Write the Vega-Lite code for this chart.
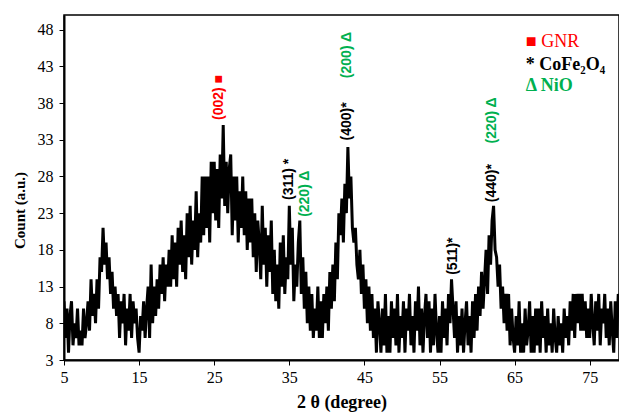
{
  "$schema": "https://vega.github.io/schema/vega-lite/v6.json",
  "autosize": "none",
  "width": 555,
  "height": 345,
  "padding": {"left": 64, "top": 15, "right": 0, "bottom": 53},
  "background": "white",
  "config": {"view": {"stroke": "black", "strokeWidth": 1.5}},
  "datasets": {
    "xrd": [
      {"t":5.0,"c":11},{"t":5.2,"c":6},{"t":5.4,"c":10},{"t":5.6,"c":4},{"t":5.8,"c":9},
      {"t":6.0,"c":11},{"t":6.2,"c":5},{"t":6.4,"c":8},{"t":6.6,"c":6},{"t":6.8,"c":10},
      {"t":7.0,"c":5},{"t":7.2,"c":7},{"t":7.4,"c":5},{"t":7.6,"c":10},{"t":7.8,"c":6},
      {"t":8.0,"c":8},{"t":8.2,"c":11},{"t":8.4,"c":7},{"t":8.6,"c":14},{"t":8.8,"c":9},
      {"t":9.0,"c":12},{"t":9.2,"c":8},{"t":9.4,"c":14},{"t":9.6,"c":10},{"t":9.8,"c":17},
      {"t":10.0,"c":15},{"t":10.2,"c":21},{"t":10.4,"c":16},{"t":10.6,"c":19},{"t":10.8,"c":14},
      {"t":11.0,"c":17},{"t":11.2,"c":12},{"t":11.4,"c":15},{"t":11.6,"c":10},{"t":11.8,"c":13},
      {"t":12.0,"c":9},{"t":12.2,"c":12},{"t":12.4,"c":6},{"t":12.6,"c":11},{"t":12.8,"c":8},
      {"t":13.0,"c":12},{"t":13.2,"c":5},{"t":13.4,"c":10},{"t":13.6,"c":7},{"t":13.8,"c":12},
      {"t":14.0,"c":6},{"t":14.2,"c":11},{"t":14.4,"c":8},{"t":14.6,"c":10},{"t":14.8,"c":6},
      {"t":15.0,"c":4},{"t":15.2,"c":9},{"t":15.4,"c":7},{"t":15.6,"c":11},{"t":15.8,"c":6},
      {"t":16.0,"c":10},{"t":16.2,"c":13},{"t":16.4,"c":6},{"t":16.6,"c":16},{"t":16.8,"c":8},
      {"t":17.0,"c":13},{"t":17.2,"c":9},{"t":17.4,"c":14},{"t":17.6,"c":10},{"t":17.8,"c":16},
      {"t":18.0,"c":12},{"t":18.2,"c":17},{"t":18.4,"c":11},{"t":18.6,"c":16},{"t":18.8,"c":13},
      {"t":19.0,"c":18},{"t":19.2,"c":13},{"t":19.4,"c":20},{"t":19.6,"c":14},{"t":19.8,"c":19},
      {"t":20.0,"c":13},{"t":20.2,"c":21},{"t":20.4,"c":16},{"t":20.6,"c":22},{"t":20.8,"c":15},
      {"t":21.0,"c":20},{"t":21.2,"c":14},{"t":21.4,"c":23},{"t":21.6,"c":17},{"t":21.8,"c":24},
      {"t":22.0,"c":16},{"t":22.2,"c":22},{"t":22.4,"c":18},{"t":22.6,"c":26},{"t":22.8,"c":17},
      {"t":23.0,"c":23},{"t":23.2,"c":19},{"t":23.4,"c":28},{"t":23.6,"c":20},{"t":23.8,"c":28},
      {"t":24.0,"c":21},{"t":24.2,"c":28},{"t":24.4,"c":19},{"t":24.6,"c":30},{"t":24.8,"c":23},
      {"t":25.0,"c":30},{"t":25.2,"c":22},{"t":25.4,"c":29},{"t":25.6,"c":21},{"t":25.8,"c":31},
      {"t":26.0,"c":25},{"t":26.2,"c":35},{"t":26.4,"c":24},{"t":26.6,"c":30},{"t":26.8,"c":23},
      {"t":27.0,"c":29},{"t":27.2,"c":31},{"t":27.4,"c":20},{"t":27.6,"c":28},{"t":27.8,"c":22},
      {"t":28.0,"c":28},{"t":28.2,"c":19},{"t":28.4,"c":26},{"t":28.6,"c":21},{"t":28.8,"c":28},
      {"t":29.0,"c":20},{"t":29.2,"c":26},{"t":29.4,"c":18},{"t":29.6,"c":25},{"t":29.8,"c":19},
      {"t":30.0,"c":25},{"t":30.2,"c":17},{"t":30.4,"c":23},{"t":30.6,"c":15},{"t":30.8,"c":22},
      {"t":31.0,"c":19},{"t":31.2,"c":14},{"t":31.4,"c":24},{"t":31.6,"c":16},{"t":31.8,"c":21},
      {"t":32.0,"c":13},{"t":32.2,"c":20},{"t":32.4,"c":15},{"t":32.6,"c":22},{"t":32.8,"c":12},
      {"t":33.0,"c":18},{"t":33.2,"c":11},{"t":33.4,"c":16},{"t":33.6,"c":10},{"t":33.8,"c":19},
      {"t":34.0,"c":13},{"t":34.2,"c":20},{"t":34.4,"c":12},{"t":34.6,"c":17},{"t":34.8,"c":14},
      {"t":35.0,"c":24},{"t":35.2,"c":16},{"t":35.4,"c":21},{"t":35.6,"c":11},{"t":35.8,"c":16},
      {"t":36.0,"c":13},{"t":36.2,"c":19},{"t":36.4,"c":22},{"t":36.6,"c":12},{"t":36.8,"c":17},
      {"t":37.0,"c":10},{"t":37.2,"c":15},{"t":37.4,"c":8},{"t":37.6,"c":13},{"t":37.8,"c":7},
      {"t":38.0,"c":12},{"t":38.2,"c":6},{"t":38.4,"c":10},{"t":38.6,"c":7},{"t":38.8,"c":13},
      {"t":39.0,"c":6},{"t":39.2,"c":11},{"t":39.4,"c":6},{"t":39.6,"c":12},{"t":39.8,"c":8},
      {"t":40.0,"c":13},{"t":40.2,"c":7},{"t":40.4,"c":15},{"t":40.6,"c":10},{"t":40.8,"c":16},
      {"t":41.0,"c":11},{"t":41.2,"c":19},{"t":41.4,"c":14},{"t":41.6,"c":23},{"t":41.8,"c":20},
      {"t":42.0,"c":25},{"t":42.2,"c":19},{"t":42.4,"c":27},{"t":42.6,"c":23},{"t":42.8,"c":32},
      {"t":43.0,"c":25},{"t":43.2,"c":28},{"t":43.4,"c":21},{"t":43.6,"c":19},{"t":43.8,"c":21},
      {"t":44.0,"c":16},{"t":44.2,"c":14},{"t":44.4,"c":18},{"t":44.6,"c":12},{"t":44.8,"c":16},
      {"t":45.0,"c":10},{"t":45.2,"c":14},{"t":45.4,"c":8},{"t":45.6,"c":13},{"t":45.8,"c":7},
      {"t":46.0,"c":12},{"t":46.2,"c":6},{"t":46.4,"c":10},{"t":46.6,"c":4},{"t":46.8,"c":11},
      {"t":47.0,"c":8},{"t":47.2,"c":4},{"t":47.4,"c":10},{"t":47.6,"c":5},{"t":47.8,"c":12},
      {"t":48.0,"c":4},{"t":48.2,"c":9},{"t":48.4,"c":4},{"t":48.6,"c":11},{"t":48.8,"c":6},
      {"t":49.0,"c":10},{"t":49.2,"c":5},{"t":49.4,"c":12},{"t":49.6,"c":4},{"t":49.8,"c":9},
      {"t":50.0,"c":6},{"t":50.2,"c":11},{"t":50.4,"c":4},{"t":50.6,"c":10},{"t":50.8,"c":7},
      {"t":51.0,"c":12},{"t":51.2,"c":5},{"t":51.4,"c":9},{"t":51.6,"c":4},{"t":51.8,"c":11},
      {"t":52.0,"c":7},{"t":52.2,"c":13},{"t":52.4,"c":5},{"t":52.6,"c":10},{"t":52.8,"c":4},
      {"t":53.0,"c":9},{"t":53.2,"c":12},{"t":53.4,"c":6},{"t":53.6,"c":11},{"t":53.8,"c":4},
      {"t":54.0,"c":10},{"t":54.2,"c":5},{"t":54.4,"c":12},{"t":54.6,"c":7},{"t":54.8,"c":4},
      {"t":55.0,"c":9},{"t":55.2,"c":4},{"t":55.4,"c":11},{"t":55.6,"c":6},{"t":55.8,"c":10},
      {"t":56.0,"c":5},{"t":56.2,"c":12},{"t":56.4,"c":8},{"t":56.6,"c":14},{"t":56.8,"c":10},
      {"t":57.0,"c":6},{"t":57.2,"c":11},{"t":57.4,"c":4},{"t":57.6,"c":9},{"t":57.8,"c":5},
      {"t":58.0,"c":10},{"t":58.2,"c":4},{"t":58.4,"c":8},{"t":58.6,"c":11},{"t":58.8,"c":5},
      {"t":59.0,"c":9},{"t":59.2,"c":4},{"t":59.4,"c":11},{"t":59.6,"c":6},{"t":59.8,"c":12},
      {"t":60.0,"c":7},{"t":60.2,"c":13},{"t":60.4,"c":9},{"t":60.6,"c":15},{"t":60.8,"c":10},
      {"t":61.0,"c":14},{"t":61.2,"c":18},{"t":61.4,"c":12},{"t":61.6,"c":20},{"t":61.8,"c":16},
      {"t":62.0,"c":22},{"t":62.2,"c":24},{"t":62.4,"c":18},{"t":62.6,"c":17},{"t":62.8,"c":13},
      {"t":63.0,"c":16},{"t":63.2,"c":10},{"t":63.4,"c":13},{"t":63.6,"c":8},{"t":63.8,"c":12},
      {"t":64.0,"c":7},{"t":64.2,"c":12},{"t":64.4,"c":5},{"t":64.6,"c":10},{"t":64.8,"c":6},
      {"t":65.0,"c":4},{"t":65.2,"c":9},{"t":65.4,"c":5},{"t":65.6,"c":11},{"t":65.8,"c":4},
      {"t":66.0,"c":8},{"t":66.2,"c":4},{"t":66.4,"c":10},{"t":66.6,"c":5},{"t":66.8,"c":7},
      {"t":67.0,"c":11},{"t":67.2,"c":4},{"t":67.4,"c":9},{"t":67.6,"c":4},{"t":67.8,"c":10},
      {"t":68.0,"c":5},{"t":68.2,"c":10},{"t":68.4,"c":4},{"t":68.6,"c":11},{"t":68.8,"c":6},
      {"t":69.0,"c":9},{"t":69.2,"c":4},{"t":69.4,"c":10},{"t":69.6,"c":5},{"t":69.8,"c":8},
      {"t":70.0,"c":4},{"t":70.2,"c":10},{"t":70.4,"c":6},{"t":70.6,"c":4},{"t":70.8,"c":9},
      {"t":71.0,"c":5},{"t":71.2,"c":8},{"t":71.4,"c":4},{"t":71.6,"c":10},{"t":71.8,"c":6},
      {"t":72.0,"c":9},{"t":72.2,"c":5},{"t":72.4,"c":11},{"t":72.6,"c":7},{"t":72.8,"c":12},
      {"t":73.0,"c":6},{"t":73.2,"c":12},{"t":73.4,"c":8},{"t":73.6,"c":12},{"t":73.8,"c":7},
      {"t":74.0,"c":12},{"t":74.2,"c":7},{"t":74.4,"c":11},{"t":74.6,"c":6},{"t":74.8,"c":10},
      {"t":75.0,"c":6},{"t":75.2,"c":12},{"t":75.4,"c":8},{"t":75.6,"c":5},{"t":75.8,"c":11},
      {"t":76.0,"c":7},{"t":76.2,"c":12},{"t":76.4,"c":5},{"t":76.6,"c":10},{"t":76.8,"c":8},
      {"t":77.0,"c":12},{"t":77.2,"c":6},{"t":77.4,"c":10},{"t":77.6,"c":5},{"t":77.8,"c":11},
      {"t":78.0,"c":7},{"t":78.2,"c":4},{"t":78.4,"c":11},{"t":78.6,"c":6},{"t":78.8,"c":12},
      {"t":79.0,"c":9}
    ],
    "peaks": [
      {"t":25.7,"c":35.7,"label":"(002) ■","col":"#ff0000"},
      {"t":35.0,"c":24.8,"label":"(311) *","col":"#000000"},
      {"t":37.1,"c":22.5,"label":"(220) Δ","col":"#00b050"},
      {"t":42.7,"c":32.9,"label":"(400)*","col":"#000000"},
      {"t":42.7,"c":41.4,"label":"(200) Δ","col":"#00b050"},
      {"t":56.8,"c":14.6,"label":"(511)*","col":"#000000"},
      {"t":62.0,"c":24.5,"label":"(440)*","col":"#000000"},
      {"t":62.0,"c":32.5,"label":"(220) Δ","col":"#00b050"}
    ],
    "legNormal": [
      {"t":66.5,"c":45.6,"label":"■ GNR","col":"#ff0000"}
    ],
    "legBold": [
      {"t":66.5,"c":42.5,"label":"* CoFe₂O₄","col":"#000000"},
      {"t":66.5,"c":39.6,"label":"Δ NiO","col":"#00b050"}
    ]
  },
  "encoding": {
    "x": {
      "field": "t", "type": "quantitative",
      "scale": {"domain": [5, 78.9], "nice": false, "zero": false},
      "axis": {
        "title": "2 θ (degree)",
        "values": [5, 15, 25, 35, 45, 55, 65, 75],
        "grid": false,
        "domainColor": "black", "domainWidth": 2,
        "tickColor": "black", "tickSize": 5, "tickWidth": 1,
        "labelFont": "Liberation Serif", "labelFontSize": 16, "labelColor": "black", "labelPadding": 4,
        "labelFlush": false,
        "titleFont": "Liberation Serif", "titleFontSize": 18, "titleFontWeight": "bold", "titleColor": "black",
        "titlePadding": 8
      }
    },
    "y": {
      "field": "c", "type": "quantitative",
      "scale": {"domain": [3, 50], "nice": false, "zero": false},
      "axis": {
        "title": "Count (a.u.)",
        "values": [3, 8, 13, 18, 23, 28, 33, 38, 43, 48],
        "grid": false,
        "domainColor": "black", "domainWidth": 2,
        "tickColor": "black", "tickSize": 5, "tickWidth": 1,
        "labelFont": "Liberation Serif", "labelFontSize": 16, "labelColor": "black", "labelPadding": 6,
        "labelFlush": false,
        "titleFont": "Liberation Serif", "titleFontSize": 15, "titleFontWeight": "bold", "titleColor": "black",
        "titlePadding": 10,
        "titleY": 195
      }
    }
  },
  "layer": [
    {
      "data": {"name": "xrd"},
      "mark": {"type": "line", "color": "black", "strokeWidth": 3, "strokeJoin": "miter", "clip": true}
    },
    {
      "data": {"name": "peaks"},
      "mark": {"type": "text", "angle": 270, "align": "left", "baseline": "middle", "font": "Liberation Sans", "fontSize": 14, "fontWeight": "bold"},
      "encoding": {
        "text": {"field": "label"},
        "color": {"field": "col", "type": "nominal", "scale": null}
      }
    },
    {
      "data": {"name": "legNormal"},
      "mark": {"type": "text", "align": "left", "baseline": "alphabetic", "font": "Liberation Serif", "fontSize": 18},
      "encoding": {
        "text": {"field": "label"},
        "color": {"field": "col", "type": "nominal", "scale": null}
      }
    },
    {
      "data": {"name": "legBold"},
      "mark": {"type": "text", "align": "left", "baseline": "alphabetic", "font": "Liberation Serif", "fontSize": 18, "fontWeight": "bold"},
      "encoding": {
        "text": {"field": "label"},
        "color": {"field": "col", "type": "nominal", "scale": null}
      }
    }
  ]
}
